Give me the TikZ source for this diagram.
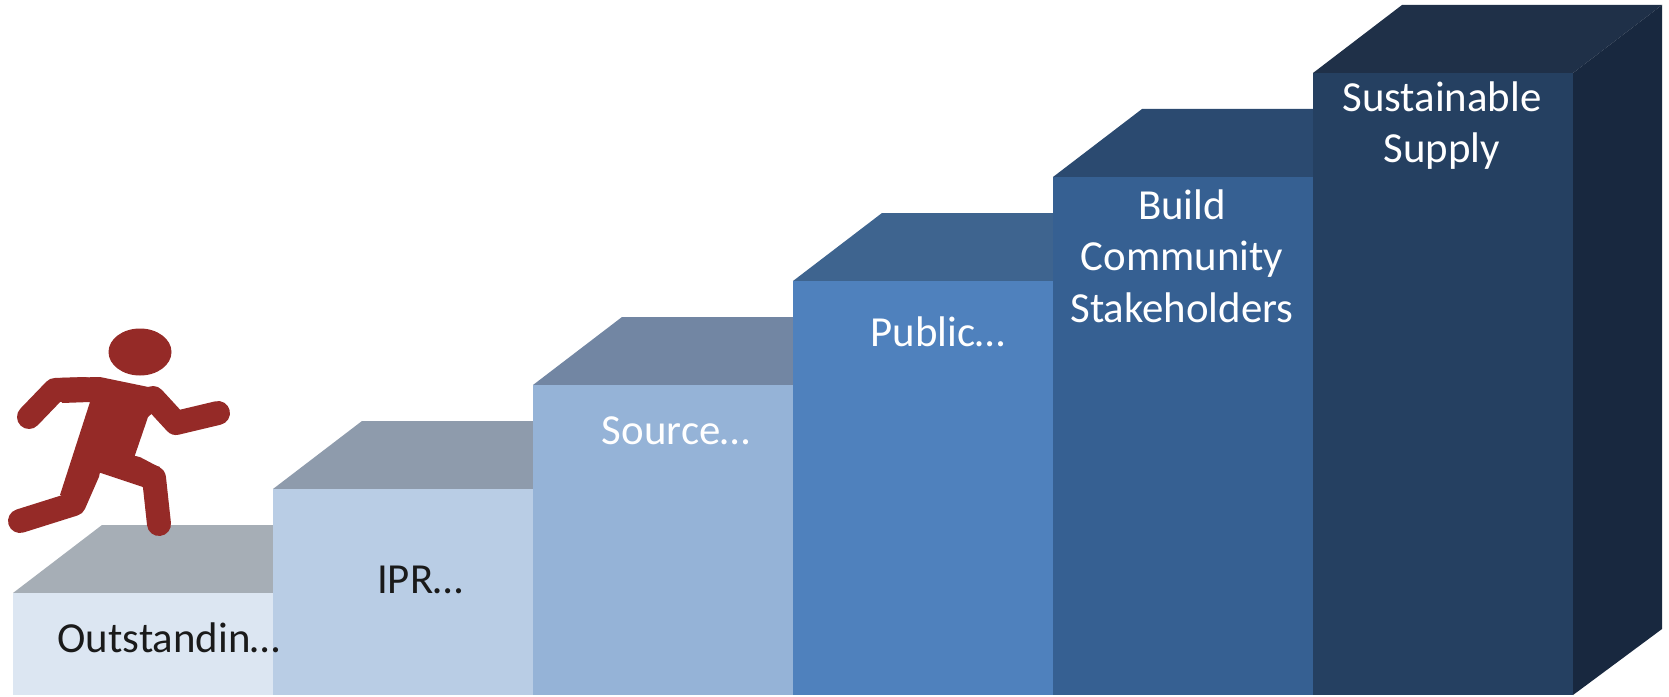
\documentclass[tikz,border=0pt]{standalone}
\usepackage{fontspec}
\setmainfont{Carlito}
\definecolor{fA}{HTML}{DCE6F2}\definecolor{tA}{HTML}{A6AEB6}
\definecolor{fB}{HTML}{B9CDE5}\definecolor{tB}{HTML}{8E9BAC}
\definecolor{fC}{HTML}{95B3D7}\definecolor{tC}{HTML}{7286A3}
\definecolor{fD}{HTML}{4F81BD}\definecolor{tD}{HTML}{3E648F}
\definecolor{fE}{HTML}{366092}\definecolor{tE}{HTML}{2B4A70}
\definecolor{fF}{HTML}{254061}\definecolor{tF}{HTML}{1F3048}
\definecolor{sF}{HTML}{18283F}
\definecolor{runner}{HTML}{952A27}
\definecolor{darktext}{HTML}{1A1A1A}
\begin{document}
\begin{tikzpicture}[x=1bp,y=-1bp,
  steplabel/.style={inner sep=0pt,anchor=base,align=center,font=\fontsize{43}{52}\selectfont},
  limb/.style={draw=runner,line width=24bp,line cap=round,line join=round}]
\useasboundingbox (0,0) rectangle (1669,697);
\fill[white] (0,0) rectangle (1669,697);
% steps: left, right, top
\foreach \l/\r/\t/\fc/\tc in {13/273/593/fA/tA,273/533/489/fB/tB,533/793/385/fC/tC,793/1053/281/fD/tD,1053/1313/177/fE/tE,1313/1573/73/fF/tF}{
  \fill[\tc] (\l,\t) -- (\r,\t) -- (\r+89,\t-68) -- (\l+89,\t-68) -- cycle;
  \fill[\fc] (\l,\t) rectangle (\r,695);
}
\fill[sF] (1573,73) -- (1662,5) -- (1662,629) -- (1573,695) -- cycle;
% labels
\node[steplabel,text=darktext] (s1) at (169,652) {Outstandin…};
\node[steplabel,text=darktext] (s2) at (420,593) {IPR…};
\node[steplabel,text=white] (s3) at (676,444) {Source…};
\node[steplabel,text=white] (s4) at (938,346) {Public…};
\node[steplabel,text=white] (s5a) at (1182,219) {Build};
\node[steplabel,text=white] (s5b) at (1182,270) {Community};
\node[steplabel,text=white] (s5c) at (1182,322) {Stakeholders};
\node[steplabel,text=white] (s6a) at (1442,112) {Sustainable};
\node[steplabel,text=white] (s6b) at (1442,163) {Supply};
% runner
\fill[runner] (140,352) ellipse [x radius=31.5, y radius=23.5];
\fill[runner] (60,378) -- (100,377) -- (158,389) -- (167,400) -- (148,417) -- (134,458) -- (160,467) -- (152,490) -- (98,472) -- (83,505) -- (60,495) -- (90,402) -- (62,403) -- cycle;
\draw[limb] (29,417) -- (55,390) -- (85,389);
\draw[limb] (153,398) -- (176,423) -- (218,413);
\draw[limb] (135,468) -- (154,478) -- (159,524);
\draw[limb] (88,472) -- (74,504) -- (20,521);
\end{tikzpicture}
\end{document}
